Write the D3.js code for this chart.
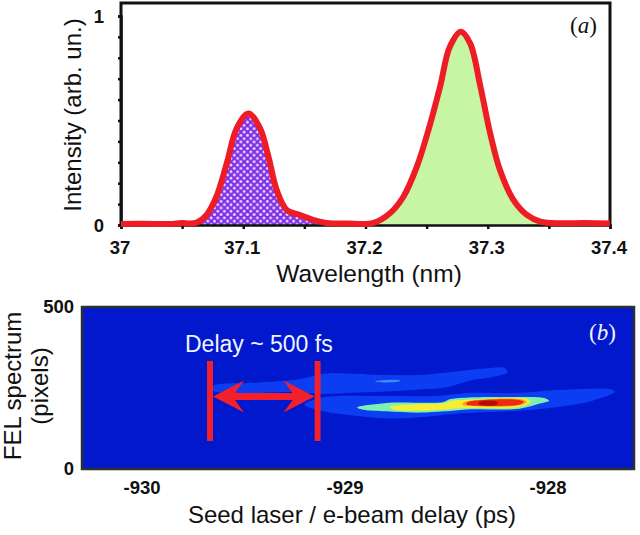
<!DOCTYPE html>
<html><head><meta charset="utf-8">
<script src="https://cdn.jsdelivr.net/npm/d3@7"></script>
<style>html,body{margin:0;padding:0;background:#fff}svg{display:block}</style></head>
<body><svg id="c" width="640" height="535"></svg>
<script>
const wavelength = [37,37.02,37.04,37.05,37.056,37.062,37.07,37.078,37.0865,37.0947,37.1042,37.1137,37.1206,37.1274,37.1356,37.1465,37.157,37.168,37.185,37.2065,37.22,37.231,37.242,37.2515,37.261,37.269,37.278,37.2856,37.294,37.302,37.31,37.321,37.332,37.343,37.36,37.38,37.4];
const intensity = [0.005,0.006,0.005,0.01,0.007,0.012,0.048,0.135,0.295,0.463,0.534,0.463,0.327,0.167,0.072,0.048,0.024,0.01,0.007,0.01,0.056,0.135,0.279,0.455,0.662,0.853,0.925,0.869,0.662,0.438,0.263,0.12,0.048,0.016,0.008,0.01,0.007];
const peakA = [37.062,37.168];
const peakB = [37.2065,37.343];
const xTicksA = [37,37.05,37.1,37.15,37.2,37.25,37.3,37.35,37.4];
const xLabelsA = [37,37.1,37.2,37.3,37.4];
const yTicksA = [0,.1,.2,.3,.4,.5,.6,.7,.8,.9,1];
const yLabelsA = [0,1];
const xTicksB = [-930,-929,-928];
const yTicksB = [0,500];
const bandUpper = [[-929.65,256],[-929.45,266],[-929.22,278],[-929.107,294],[-928.795,290],[-928.63,290],[-928.466,300],[-928.30,311],[-928.21,311],[-928.20,298],[-928.25,287],[-928.38,273],[-928.50,252],[-928.63,245],[-928.795,239],[-928.96,235],[-929.12,232],[-929.22,237],[-929.65,242]];
const bandLower = [[-929.12,220],[-928.795,225],[-928.55,225],[-928.38,235],[-928.14,235],[-927.97,243],[-927.69,246],[-927.67,239],[-927.78,211],[-927.97,190],[-928.14,180],[-928.30,175],[-928.466,170],[-928.63,160],[-928.795,156],[-928.96,165],[-929.12,180],[-929.2,198]];
const bandGreen = [[-928.94,190],[-928.795,204],[-928.515,207],[-928.48,216],[-928.14,222],[-928.02,219],[-927.995,211],[-928.04,202],[-928.14,186],[-928.40,184],[-928.51,178],[-928.63,174],[-928.795,178],[-928.91,183]];
const bandYellow = [[-928.78,192],[-928.63,201],[-928.51,204],[-928.475,211],[-928.40,214],[-928.105,217],[-928.085,208],[-928.14,191],[-928.385,188],[-928.515,184],[-928.63,180],[-928.76,184]];
const bandOrange = [[-928.42,204],[-928.335,214],[-928.13,215],[-928.105,207],[-928.14,197],[-928.335,193],[-928.42,198]];
const bandRed = [[-928.40,205],[-928.335,212],[-928.14,213],[-928.12,207],[-928.14,199],[-928.335,195],[-928.40,199]];
const bandCore = [[-928.34,206],[-928.25,207],[-928.25,199],[-928.34,199]];
const bandStreak = [[-928.85,271],[-928.73,274],[-928.73,271],[-928.85,269]];
const bandColors = ["#0b3cf2","#0b3cf2","#7cf0b0","#f6ee30","#f7a020","#ee2a10","#b01008","#3f8cf5"];
const delayMarks = [-929.665,-929.135];
const arrowPixels = 224;

const svg = d3.select("#c");
const defs = svg.append("defs");
const hatch = defs.append("pattern").attr("id","hatch").attr("width",6.6).attr("height",6.6).attr("patternUnits","userSpaceOnUse");
hatch.append("rect").attr("width",6.6).attr("height",6.6).attr("fill","#7f2fe6");
[[0,0],[6.6,0],[0,6.6],[6.6,6.6],[3.3,3.3]].forEach(p=>hatch.append("circle").attr("cx",p[0]).attr("cy",p[1]).attr("r",1.45).attr("fill","#ecdcff"));
defs.append("filter").attr("id","soft").attr("x","-5%").attr("y","-30%").attr("width","110%").attr("height","160%").append("feGaussianBlur").attr("stdDeviation",0.45);

const bold = s => s.attr("font-family","Liberation Sans").attr("font-weight","bold").attr("font-size",18.5).attr("fill","#111");

// Panel a
const xA = d3.scaleLinear().domain([37,37.4]).range([121,610]);
const yA = d3.scaleLinear().domain([0,1]).range([225,16]);
const pts = wavelength.map((w,i)=>[w,intensity[i]]);
const area = d3.area().x(d=>xA(d[0])).y0(yA(0)).y1(d=>yA(d[1])).curve(d3.curveCatmullRom);
const line = d3.line().x(d=>xA(d[0])).y(d=>yA(d[1])).curve(d3.curveCatmullRom);
svg.append("path").attr("d",area(pts.filter(d=>d[0]>=peakA[0]&&d[0]<=peakA[1]))).attr("fill","url(#hatch)");
svg.append("path").attr("d",area(pts.filter(d=>d[0]>=peakB[0]&&d[0]<=peakB[1]))).attr("fill","#c6f5a4");
svg.append("path").attr("d",`M${xA(37)} ${yA(0)}V3H${xA(37.4)}V${yA(0)}`).attr("fill","none").attr("stroke","#111").attr("stroke-width",3);
const axXA = svg.append("g").attr("transform",`translate(0,${yA(0)})`).call(d3.axisBottom(xA).tickValues(xTicksA).tickSize(4).tickFormat(""));
const axYA = svg.append("g").attr("transform",`translate(${xA(37)},0)`).call(d3.axisLeft(yA).tickValues(yTicksA).tickSize(3).tickFormat(""));
[axXA,axYA].forEach(g=>{g.select(".domain").attr("stroke","#111").attr("stroke-width",2.5);g.selectAll("line").attr("stroke","#111").attr("stroke-width",2.5);});
svg.append("path").attr("d",line(pts)).attr("fill","none").attr("stroke","#ee1c25").attr("stroke-width",6).attr("stroke-linejoin","round");
svg.append("g").selectAll("text").data(xLabelsA).join("text").call(bold).attr("x",d=>xA(d)-1).attr("y",254).attr("text-anchor","middle").text(d=>d);
svg.append("g").selectAll("text").data(yLabelsA).join("text").call(bold).attr("x",104).attr("y",d=>yA(d)+6.5).attr("text-anchor","end").text(d=>d);

// Panel b
const xB = d3.scaleLinear().domain([-930,-928]).range([142,548]);
const yB = d3.scaleLinear().domain([0,500]).range([469,307]);
svg.append("rect").attr("x",82).attr("y",307).attr("width",552).attr("height",162).attr("fill","#0218cc");
const blob = d3.line().x(d=>xB(d[0])).y(d=>yB(d[1])).curve(d3.curveCatmullRomClosed);
const heat = svg.append("g").attr("filter","url(#soft)");
[bandUpper,bandLower,bandGreen,bandYellow,bandOrange,bandRed,bandCore,bandStreak].forEach((b,i)=>{
  heat.append("path").attr("d",blob(b)).attr("fill",bandColors[i]);
});
svg.append("rect").attr("x",82).attr("y",307).attr("width",552).attr("height",162).attr("fill","none").attr("stroke","#2a3030").attr("stroke-width",2.5);
svg.append("g").selectAll("text").data(xTicksB).join("text").call(bold).attr("x",d=>xB(d)).attr("y",494).attr("text-anchor","middle").text(d=>d);
svg.append("g").selectAll("text").data(yTicksB).join("text").call(bold).attr("x",74).attr("y",d=>yB(d)+6).attr("text-anchor","end").text(d=>d);

// Annotation
const arrY = yB(arrowPixels);
delayMarks.forEach(d=>svg.append("line").attr("x1",xB(d)).attr("x2",xB(d)).attr("y1",361).attr("y2",441).attr("stroke","#f2202a").attr("stroke-width",6));
const xL = xB(delayMarks[0])+3, xR = xB(delayMarks[1])-3;
svg.append("path").attr("fill","#f2202a").attr("d",
 `M${xL} ${arrY}L${xL+31} ${arrY-16}L${xL+22} ${arrY-3.5}H${xR-22}L${xR-31} ${arrY-16}L${xR} ${arrY}L${xR-31} ${arrY+16}L${xR-22} ${arrY+3.5}H${xL+22}L${xL+31} ${arrY+16}Z`);
const lab = (t,x,y,size,fill,extra)=>{const e=svg.append("text").attr("x",x).attr("y",y).attr("font-family","Liberation Sans").attr("font-size",size).attr("fill",fill).attr("text-anchor","middle").text(t);if(extra)e.attr("transform",extra);return e;};
svg.append("text").attr("x",185).attr("y",352).attr("font-family","Liberation Sans").attr("font-size",23).attr("fill","#eef4ff").text("Delay ~ 500 fs");
lab("Wavelength (nm)",369,282,24.5,"#111");
lab("Seed laser / e-beam delay (ps)",352,523,24,"#111");
lab("Intensity (arb. un.)",0,0,24,"#111","translate(81,115) rotate(-90)");
lab("FEL spectrum",0,0,24,"#111","translate(21,386) rotate(-90)");
lab("(pixels)",0,0,24,"#111","translate(48,386) rotate(-90)");
const tag = (letter,x,y,fill)=>{const t=svg.append("text").attr("x",x).attr("y",y).attr("font-family","Liberation Serif").attr("font-size",23).attr("fill",fill);
 t.append("tspan").text("(");t.append("tspan").attr("font-style","italic").text(letter);t.append("tspan").text(")");};
tag("a",570,33,"#111");
tag("b",589,340,"#eef4ff");
</script></body></html>
